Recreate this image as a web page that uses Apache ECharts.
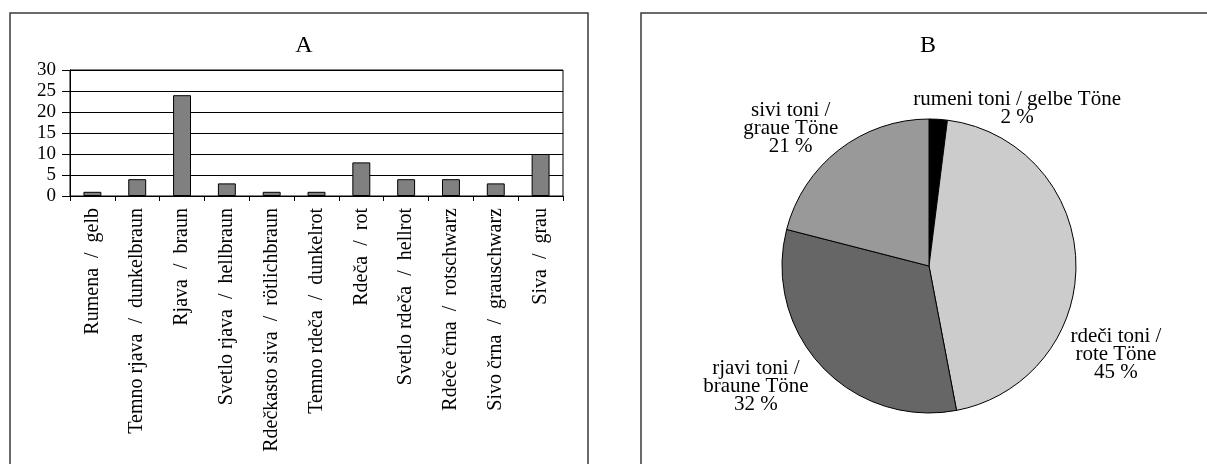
<!DOCTYPE html>
<html>
<head>
<meta charset="utf-8">
<script src="https://cdn.jsdelivr.net/npm/echarts@6/dist/echarts.min.js"></script>
<style>
  html, body { margin: 0; padding: 0; background: #fff; }
  #chart { width: 1207px; height: 464px; }
</style>
</head>
<body>
<div id="chart"></div>
<script>
// ---- Data ----
const barCategories = [
  'Rumena  /  gelb',
  'Temno rjava  /  dunkelbraun',
  'Rjava  /  braun',
  'Svetlo rjava  /  hellbraun',
  'Rdečkasto siva  /  rötlichbraun',
  'Temno rdeča  /  dunkelrot',
  'Rdeča  /  rot',
  'Svetlo rdeča  /  hellrot',
  'Rdeče črna  /  rotschwarz',
  'Sivo črna  /  grauschwarz',
  'Siva  /  grau'
];
const barValues = [1, 4, 24, 3, 1, 1, 8, 4, 4, 3, 10];
const yTicks = { min: 0, max: 30, interval: 5 };

const pieNames = [
  'rumeni toni / gelbe Töne',
  'rdeči toni /\nrote Töne',
  'rjavi toni /\nbraune Töne',
  'sivi toni /\ngraue Töne'
];
const pieValues = [2, 45, 32, 21];
const pieColors = ['#000000', '#cccccc', '#666666', '#999999'];

const titleA = 'A';
const titleB = 'B';

// label nudges (style only)
const pieLabelNudge = [[73, 4], [20, 94], [-50, 10], [-34, -10]];

const FONT = "'Liberation Serif', 'Times New Roman', serif";

const chart = echarts.init(document.getElementById('chart'), null, { renderer: 'canvas' });

chart.setOption({
  backgroundColor: '#ffffff',
  animation: false,
  title: [
    { text: titleA, left: 299, top: 29, textAlign: 'center',
      textStyle: { fontFamily: FONT, fontSize: 24, fontWeight: 'normal', color: '#000' } },
    { text: titleB, left: 923, top: 29, textAlign: 'center',
      textStyle: { fontFamily: FONT, fontSize: 24, fontWeight: 'normal', color: '#000' } }
  ],
  graphic: [
    { type: 'rect', shape: { x: 10, y: 13, width: 578, height: 520 },
      style: { fill: 'none', stroke: '#3a3a3a', lineWidth: 1.5 }, silent: true },
    { type: 'rect', shape: { x: 641, y: 13, width: 620, height: 520 },
      style: { fill: 'none', stroke: '#3a3a3a', lineWidth: 1.5 }, silent: true }
  ],
  grid: {
    left: 70, right: 644, top: 70, bottom: 268,
    show: true, borderColor: '#000', borderWidth: 1, backgroundColor: 'transparent',
    containLabel: false, outerBoundsMode: 'none'
  },
  xAxis: {
    type: 'category',
    data: barCategories,
    boundaryGap: true,
    axisLine: { show: true, lineStyle: { color: '#000', width: 1 } },
    axisTick: { show: true, length: 5, lineStyle: { color: '#000' } },
    axisLabel: {
      interval: 0, rotate: 90, margin: 12,
      fontFamily: FONT, fontSize: 20, color: '#000', hideOverlap: false
    },
    splitLine: { show: false }
  },
  yAxis: {
    type: 'value',
    min: yTicks.min, max: yTicks.max, interval: yTicks.interval,
    axisLine: { show: true, lineStyle: { color: '#000', width: 1 } },
    axisTick: { show: true, length: 8, lineStyle: { color: '#000' } },
    axisLabel: { margin: 14, fontFamily: FONT, fontSize: 19, color: '#000' },
    splitLine: { show: true, lineStyle: { color: '#000', width: 1 } }
  },
  series: [
    {
      type: 'bar',
      data: barValues,
      barWidth: '40%',
      itemStyle: { color: '#808080', borderColor: '#000', borderWidth: 1 },
      silent: true
    },
    {
      type: 'pie',
      center: [929, 266],
      radius: 147,
      startAngle: 90,
      clockwise: true,
      avoidLabelOverlap: false,
      data: pieNames.map((n, i) => ({ name: n, value: pieValues[i], itemStyle: { color: pieColors[i] } })),
      itemStyle: { borderColor: '#000', borderWidth: 1 },
      label: {
        show: true, position: 'outside',
        formatter: '{b}\n{c} %',
        fontFamily: FONT, fontSize: 21, lineHeight: 18, color: '#000',
        distanceToLabelLine: 5
      },
      labelLine: { show: false, length: 15, length2: 0 },
      labelLayout: function (params) {
        const d = pieLabelNudge[params.dataIndex];
        return { dx: d[0], dy: d[1], align: 'center', verticalAlign: 'middle' };
      },
      emphasis: { disabled: true },
      silent: true
    }
  ]
});
</script>
</body>
</html>
